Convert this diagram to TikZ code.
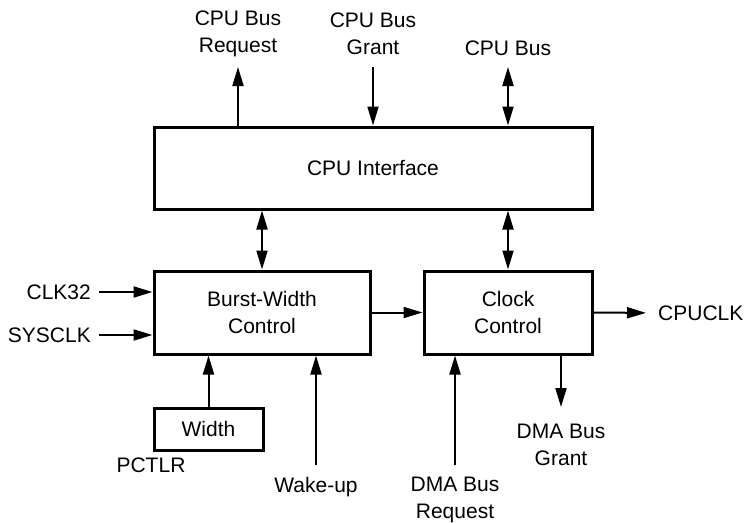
\documentclass[tikz,border=0pt]{standalone}
\usepackage{fontspec}
\setmainfont{Liberation Sans}
\usetikzlibrary{arrows.meta}

\tikzset{
  blk/.style={draw, line width=3pt, inner sep=0pt, font=\fontsize{21}{27}\selectfont, align=center},
  arr/.style={-{Triangle[length=19pt,width=11pt]}, line width=2pt},
  darr/.style={{Triangle[length=19pt,width=11pt]}-{Triangle[length=19pt,width=11pt]}, line width=2pt},
  lbl/.style={align=center, inner sep=0pt, font=\fontsize{21}{27}\selectfont}
}

\begin{document}
\begin{tikzpicture}[x=1pt,y=-1pt]
                \useasboundingbox (0,0) rectangle (746,522);

                % Blocks
                \node[blk, minimum width=438pt, minimum height=82pt] (cpuif) at (373,168) {CPU Interface};
                \node[blk, minimum width=216pt, minimum height=83pt] (bwc) at (262,312.5) {Burst-Width\\Control};
                \node[blk, minimum width=168pt, minimum height=83pt] (clkctl) at (508,312.5) {Clock\\Control};
                \node[blk, minimum width=109pt, minimum height=42pt] (wid) at (208.5,429) {Width};

                % Signal names
                \node[lbl] (busreq) at (238,34) {CPU Bus\\Request};
                \node[lbl] (busgnt) at (373,34) {CPU Bus\\Grant};
                \node[lbl] (cpubus) at (508,48) {CPU Bus};
                \node[lbl, anchor=east] (clk32) at (91,292) {CLK32};
                \node[lbl, anchor=east] (sysclk) at (91,335) {SYSCLK};
                \node[lbl, anchor=west] (cpuclk) at (658,313) {CPUCLK};
                \node[lbl] (pctlr) at (151,465) {PCTLR};
                \node[lbl] (wake) at (316,487) {Wake-up};
                \node[lbl] (dmareq) at (455,500) {DMA Bus\\Request};
                \node[lbl] (dmagnt) at (561,444.5) {DMA Bus\\Grant};

                % Free ends
                \coordinate (top) at (0,67);
                \coordinate (bot) at (0,465);
                \coordinate (gnt) at (0,407);

                % CPU bus side
                \draw[arr] (cpuif.north -| busreq) -- (busreq |- top);
                \draw[arr] (busgnt |- top) -- (cpuif.north -| busgnt);
                \draw[darr] (cpuif.north -| cpubus) -- (cpubus |- top);
                \draw[darr] (cpuif.south -| bwc) -- (bwc.north);
                \draw[darr] (cpuif.south -| clkctl) -- (clkctl.north);

                % Clock inputs and outputs
                \draw[arr, shorten <=8pt] (clk32.east) -- (clk32 -| bwc.west);
                \draw[arr, shorten <=8pt] (sysclk.east) -- (sysclk -| bwc.west);
                \draw[arr] (bwc.east) -- (clkctl.west);
                \draw[arr, shorten >=12pt] (clkctl.east) -- (cpuclk.west);

                % Lower inputs
                \draw[arr] (wid.north) -- (wid |- bwc.south);
                \draw[arr] (wake |- bot) -- (wake |- bwc.south);
                \draw[arr] (dmareq |- bot) -- (dmareq |- clkctl.south);
                \draw[arr] (clkctl.south -| dmagnt) -- (dmagnt |- gnt);
            \end{tikzpicture}
\end{document}
